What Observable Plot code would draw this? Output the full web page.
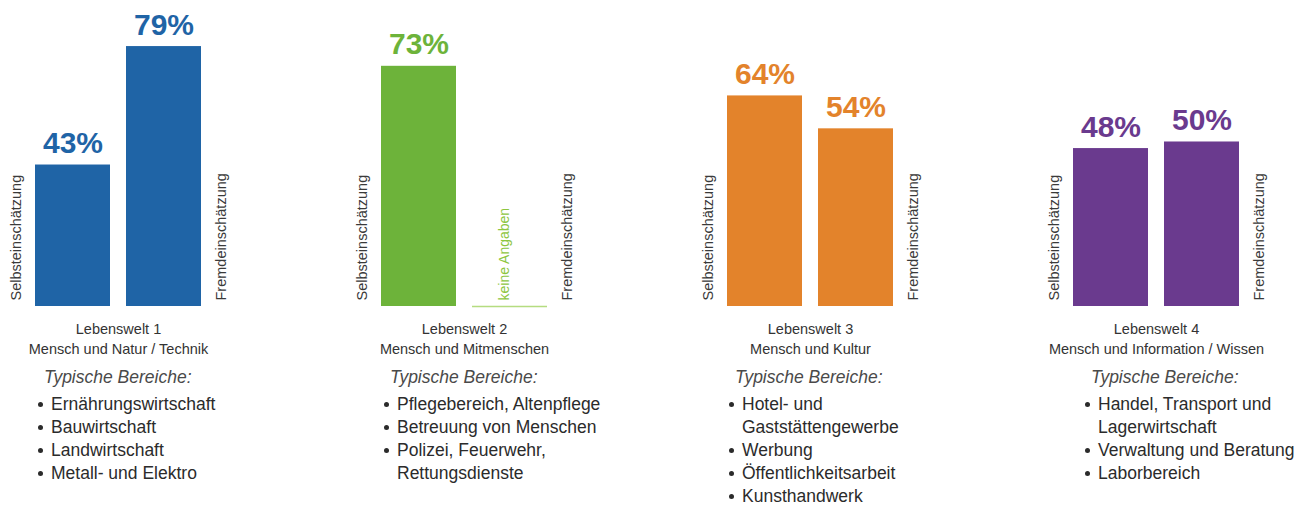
<!DOCTYPE html>
<html><head><meta charset="utf-8">
<script src="https://cdn.jsdelivr.net/npm/d3@7"></script>
<script src="https://cdn.jsdelivr.net/npm/@observablehq/plot@0.6"></script>
<style>
body{margin:0;background:#fff;font-family:"Liberation Sans",Arial,sans-serif;}
#wrap{position:relative;width:1311px;height:506px;overflow:hidden;}
.col{position:absolute;top:366px;color:#2b2b2b;font-size:17.5px;line-height:23px;}
.col .head{margin:0 0 4px 7px;font-style:italic;color:#4a4a4a;}
.col .item{position:relative;padding-left:14px;white-space:pre-line;}
.col .item::before{content:"";position:absolute;left:1px;top:9px;width:5px;height:5px;border-radius:50%;background:#2b2b2b;}
</style></head><body><div id="wrap"></div>
<script>
const lebenswelten = ["Lebenswelt 1", "Lebenswelt 2", "Lebenswelt 3", "Lebenswelt 4"];
const untertitel = ["Mensch und Natur / Technik", "Mensch und Mitmenschen", "Mensch und Kultur", "Mensch und Information / Wissen"];
const einschaetzungen = ["Selbsteinschätzung", "Fremdeinschätzung"];
const selbst = [43, 73, 64, 48];
const fremd = [79, null, 54, 50];
const farben = ["#1f64a6", "#6db33a", "#e3832b", "#6a3a8e"];
const ueberschrift = "Typische Bereiche:";
const keineAngaben = "keine Angaben";
const bereiche1 = ["Ernährungswirtschaft", "Bauwirtschaft", "Landwirtschaft", "Metall- und Elektro"];
const bereiche2 = ["Pflegebereich, Altenpflege", "Betreuung von Menschen", "Polizei, Feuerwehr,\nRettungsdienste"];
const bereiche3 = ["Hotel- und\nGaststättengewerbe", "Werbung", "Öffentlichkeitsarbeit", "Kunsthandwerk"];
const bereiche4 = ["Handel, Transport und\nLagerwirtschaft", "Verwaltung und Beratung", "Laborbereich"];
const bereiche = [bereiche1, bereiche2, bereiche3, bereiche4];

const rows = lebenswelten.flatMap((w, i) => [
  {welt: w, art: einschaetzungen[0], wert: selbst[i]},
  {welt: w, art: einschaetzungen[1], wert: fremd[i]}
]);
const welten = lebenswelten.map((w, i) => ({welt: w, titel: w + "\n" + untertitel[i]}));
const mitWert = rows.filter(d => d.wert != null);
const ohneWert = rows.filter(d => d.wert == null);

const plot = Plot.plot({
  width: 1311, height: 362,
  marginTop: 0, marginBottom: 56, marginLeft: 0, marginRight: 38,
  style: {fontFamily: "'Liberation Sans', Arial, sans-serif", background: "transparent", overflow: "visible"},
  fx: {domain: lebenswelten, paddingInner: 0.5205, paddingOuter: 0.0982, axis: null},
  x: {domain: einschaetzungen, paddingInner: 0.176, paddingOuter: 0, axis: null},
  y: {domain: [0, 93], axis: null},
  color: {domain: lebenswelten, range: farben},
  marks: [
    Plot.barY(mitWert, {fx: "welt", x: "art", y: "wert", fill: "welt"}),
    Plot.tickY(ohneWert, {fx: "welt", x: "art", y: 0, stroke: "#b5dc80", strokeWidth: 1.5}),
    Plot.text(mitWert, {fx: "welt", x: "art", y: "wert", text: d => d.wert + "%", fill: "welt",
      fontSize: 30, fontWeight: "bold", lineAnchor: "bottom", dy: -12}),
    Plot.text(ohneWert, {fx: "welt", x: "art", y: 0, text: () => keineAngaben, rotate: -90,
      textAnchor: "start", dy: -6, dx: -5, fill: "#8dc63f", fontSize: 14}),
    Plot.text(rows.filter(d => d.art === einschaetzungen[0]), {fx: "welt", x: "art", y: 0, text: "art",
      rotate: -90, textAnchor: "start", dx: -56.5, dy: -6, fill: "#3a3a3a", fontSize: 14.5}),
    Plot.text(rows.filter(d => d.art === einschaetzungen[1]), {fx: "welt", x: "art", y: 0, text: "art",
      rotate: -90, textAnchor: "start", dx: 57.5, dy: -6, fill: "#3a3a3a", fontSize: 14.5}),
    Plot.text(welten, {fx: "welt", frameAnchor: "bottom", text: "titel", lineAnchor: "top",
      dy: 13, lineHeight: 1.38, fontSize: 14.5, fill: "#333"})
  ]
});
const wrap = document.getElementById("wrap");
wrap.appendChild(plot);
const fxScale = plot.scale("fx");
const spaltenVersatz = [2, 2, 1, 11];
lebenswelten.forEach((w, i) => {
  const col = document.createElement("div");
  col.className = "col";
  col.style.left = (fxScale.apply(w) + spaltenVersatz[i]) + "px";
  const h = document.createElement("div");
  h.className = "head";
  h.textContent = ueberschrift;
  col.appendChild(h);
  bereiche[i].forEach(t => {
    const it = document.createElement("div");
    it.className = "item";
    it.textContent = t;
    col.appendChild(it);
  });
  wrap.appendChild(col);
});
</script></body></html>
